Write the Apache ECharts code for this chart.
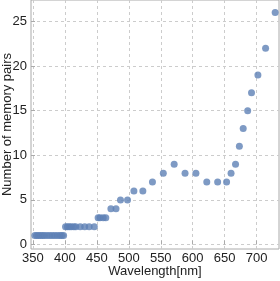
<!DOCTYPE html>
<html><head><meta charset="utf-8">
<script src="https://cdn.jsdelivr.net/npm/echarts@6/dist/echarts.min.js"></script>
<style>html,body{margin:0;padding:0;background:#fff}#c{width:280px;height:281px}</style>
</head><body><div id="c"></div>
<script>
const wavelengths = [353,356,359,362,365,368,372,376,380,384,388,392,395,398,
  401,404,407,410,414,417,424,431,438,446,
  452,455,460,464,472,480,487,498,508,522,537,554,571,588,605,622,639,
  653,660,667,673,679,686,692,702,714,729];
const pairs = [1,1,1,1,1,1,1,1,1,1,1,1,1,1,
  2,2,2,2,2,2,2,2,2,2,
  3,3,3,3,4,4,5,5,6,6,7,8,9,8,8,7,7,
  7,8,9,11,13,15,17,19,22,26];
const xTicks = [350,400,450,500,550,600,650,700];
const yTicks = [0,5,10,15,20,25];

const chart = echarts.init(document.getElementById('c'));
const data = wavelengths.map((w,i)=>[w,pairs[i]]);
const font = {fontFamily:'Liberation Sans, Arial, sans-serif', fontSize:13, color:'#222'};
chart.setOption({
  animation:false,
  grid:{left:31,right:1,top:0,bottom:32,show:true,borderColor:'#aaa',borderWidth:1,
    outerBoundsMode:'none',containLabel:false},
  xAxis:{type:'value',min:347,max:735,
    name:'Wavelength[nm]',nameLocation:'middle',nameGap:16,nameMoveOverlap:false,
    nameTextStyle:Object.assign({},font),
    axisLine:{show:false},
    axisTick:{show:true,inside:true,length:4,lineStyle:{color:'#aaa'},customValues:xTicks},
    axisLabel:Object.assign({margin:3,customValues:xTicks},font),
    splitLine:{show:true,lineStyle:{color:'#ccc',type:[3,3],width:1}}},
  yAxis:{type:'value',min:-0.5,max:27.4,
    name:'Number of memory pairs',nameLocation:'middle',nameGap:17,nameMoveOverlap:false,
    nameTextStyle:Object.assign({},font),
    axisLine:{show:false},
    axisTick:{show:true,inside:true,length:4,lineStyle:{color:'#aaa'},customValues:yTicks},
    axisLabel:Object.assign({margin:4,customValues:yTicks},font),
    splitLine:{show:true,lineStyle:{color:'#ccc',type:[3,3],width:1}}},
  series:[{type:'scatter',data:data,symbol:'circle',symbolSize:7,
    itemStyle:{color:'#5E81B5'}}]
});
</script></body></html>
